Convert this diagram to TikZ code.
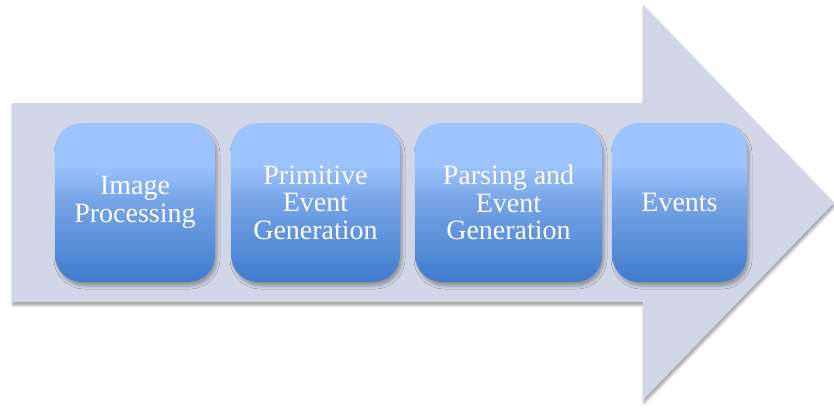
\documentclass[tikz,border=0pt]{standalone}
\usepackage{fontspec}
\setmainfont{Liberation Serif}
\usetikzlibrary{shadows.blur}

\definecolor{arrowfill}{RGB}{208,214,229}
\definecolor{boxtop}{RGB}{156,195,253}
\definecolor{boxmid}{RGB}{118,163,230}
\definecolor{boxbot}{RGB}{62,124,204}

% light at the top, darker towards the bottom
\pgfdeclareverticalshading{stepshade}{100bp}{color(0bp)=(boxbot); color(25bp)=(boxbot); color(50bp)=(boxmid); color(62bp)=(boxtop); color(100bp)=(boxtop)}

\tikzset{
  stepbox/.style={rounded corners=27pt, minimum width=#1, minimum height=159pt,
    inner sep=0pt, shading=stepshade, text=white, align=center,
    font=\fontsize{28}{27.5}\selectfont,
    blur shadow={shadow xshift=2pt, shadow yshift=-4pt, shadow blur radius=3pt, shadow opacity=30}},
  bigarrow/.style={fill=arrowfill,
    blur shadow={shadow xshift=1pt, shadow yshift=-3pt, shadow blur radius=3pt, shadow opacity=40}}
}

\begin{document}
\begin{tikzpicture}[x=1pt,y=-1pt]
\useasboundingbox (0,0) rectangle (834,407);
% the arrow behind the stages
\path[bigarrow] (12,103) -- (643,103) -- (643,5) -- (834,203) -- (643,400) -- (643,302) -- (12,302) -- cycle;
% processing stages
\node[stepbox=160pt] (imgproc) at (135,202.5) {Image\\Processing};
\node[stepbox=169pt] (primev) at (315.5,202.5) {Primitive\\Event\\Generation};
\node[stepbox=187pt] (parsing) at (508.5,202.5) {Parsing and\\Event\\Generation};
\node[stepbox=135pt] (events) at (679.5,202.5) {Events};
\end{tikzpicture}
\end{document}
